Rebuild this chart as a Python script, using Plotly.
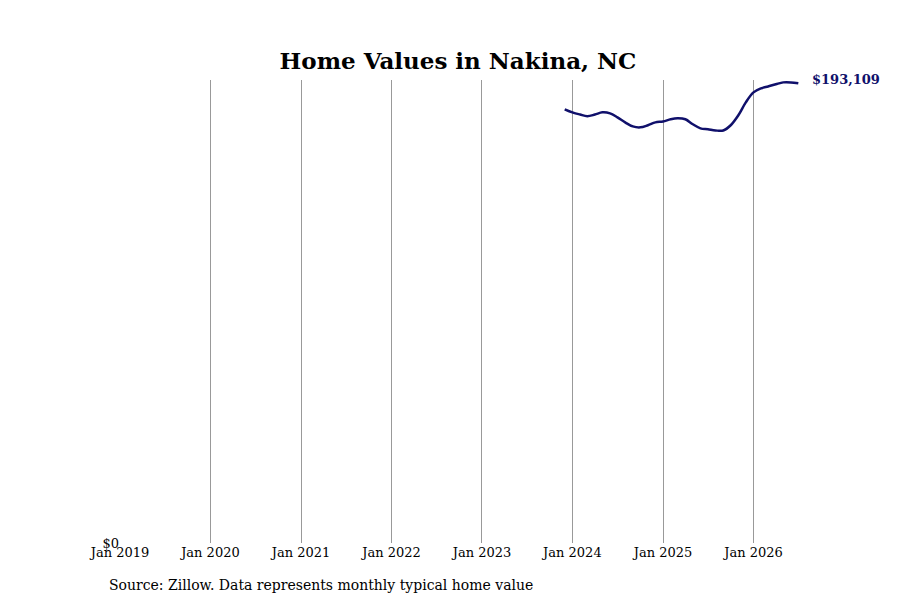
import plotly.graph_objects as go

months = ["2023-12-01", "2024-01-01", "2024-02-01", "2024-03-01", "2024-04-01", "2024-05-01",
          "2024-06-01", "2024-07-01", "2024-08-01", "2024-09-01", "2024-10-01", "2024-11-01",
          "2024-12-01", "2025-01-01", "2025-02-01", "2025-03-01", "2025-04-01", "2025-05-01",
          "2025-06-01", "2025-07-01", "2025-08-01", "2025-09-01", "2025-10-01", "2025-11-01",
          "2025-12-01", "2026-01-01", "2026-02-01", "2026-03-01", "2026-04-01", "2026-05-01",
          "2026-06-01", "2026-07-01"]
values = [182200, 180900, 180000, 179300, 180000, 180900, 180500, 178800, 176700, 175000,
          174600, 175500, 176700, 177100, 178000, 178400, 178000, 175900, 174200, 173800,
          173300, 173300, 175500, 179700, 185100, 189300, 191000, 191800, 192700, 193500,
          193500, 193109]
tick_vals = ["2019-01-01", "2020-01-01", "2021-01-01", "2022-01-01", "2023-01-01",
             "2024-01-01", "2025-01-01", "2026-01-01"]
tick_text = ["Jan 2019", "Jan 2020", "Jan 2021", "Jan 2022", "Jan 2023",
             "Jan 2024", "Jan 2025", "Jan 2026"]

navy = "#10106b"
fig = go.Figure()
fig.add_trace(go.Scatter(x=months, y=values, mode="lines",
                         line=dict(color=navy, width=2.5, shape="spline")))
fig.add_annotation(x=months[-1], y=values[-1], text=f"<b>${values[-1]:,}</b>",
                   showarrow=False, xanchor="left", xshift=12, yshift=4,
                   font=dict(color=navy, size=13))

fig.update_layout(
    width=900, height=600,
    plot_bgcolor="white", paper_bgcolor="white",
    font=dict(family="DejaVu Serif", size=13, color="black"),
    title=dict(text="<b>Home Values in Nakina, NC</b>", x=0.5, y=0.925,
               xanchor="center", font=dict(size=23)),
    margin=dict(l=112, r=102, t=72, b=65, autoexpand=False),
    showlegend=False,
    xaxis=dict(range=["2019-01-01", "2026-08-01"], tickvals=tick_vals, ticktext=tick_text,
               showgrid=True, gridcolor="#999999", gridwidth=1, zeroline=False,
               showline=False, ticks="", automargin=False),
    yaxis=dict(range=[0, 194500], tickvals=[0], ticktext=["$0"], showgrid=False,
               zeroline=False, showline=False, ticks="", automargin=False),
)
fig.add_annotation(text="Source: Zillow. Data represents monthly typical home value",
                   xref="paper", yref="paper", x=-0.019, y=-0.07, xanchor="left",
                   yanchor="top", showarrow=False, font=dict(size=14))

fig.write_html("out.html")
